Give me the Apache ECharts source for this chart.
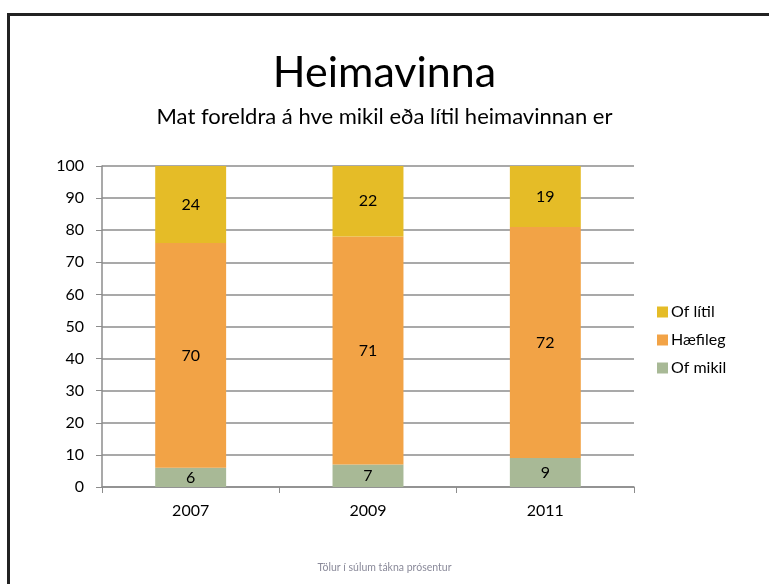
<!DOCTYPE html>
<html>
<head>
<meta charset="utf-8">
<script src="https://cdn.jsdelivr.net/npm/echarts@6/dist/echarts.min.js"></script>
<style>
  html, body { margin: 0; padding: 0; background: #fff; }
  #frame { position: absolute; left: 7px; top: 13px; width: 780px; height: 600px;
           border-top: 3px solid #222; border-left: 3px solid #222; }
  #chart { position: absolute; left: 0; top: 0; width: 769px; height: 584px; }
</style>
</head>
<body>
<div id="frame"></div>
<div id="chart"></div>
<script>
var years = ['2007', '2009', '2011'];
var ofMikil = [6, 7, 9];
var haefileg = [70, 71, 72];
var ofLitil = [24, 22, 19];

var myChart = echarts.init(document.getElementById('chart'));

var lbl = {
  show: true,
  position: 'inside',
  color: '#000',
  fontSize: 16,
  fontFamily: 'Lato'
};

var option = {
  animation: false,
  textStyle: { fontFamily: 'Lato' },
  title: [{
    text: 'Heimavinna',
    left: 'center',
    top: 47,
    textStyle: { fontSize: 43, fontWeight: 'normal', color: '#000', fontFamily: 'Lato' }
  }, {
    text: 'Mat foreldra á hve mikil eða lítil heimavinnan er',
    left: 'center',
    top: 101,
    textStyle: { fontSize: 22, fontWeight: 'normal', color: '#000', fontFamily: 'Lato' }
  }, {
    text: 'Tölur í súlum tákna prósentur',
    left: 'center',
    top: 557,
    textStyle: { fontSize: 10.5, fontWeight: 'normal', color: '#8a8a9a', fontFamily: 'Lato' }
  }],
  legend: {
    orient: 'vertical',
    left: 652,
    top: 299,
    itemWidth: 11,
    itemHeight: 11,
    itemGap: 12,
    icon: 'rect',
    textStyle: { fontSize: 16, color: '#000', fontFamily: 'Lato', padding: [0, 0, 0, -2] },
    data: ['Of lítil', 'Hæfileg', 'Of mikil']
  },
  grid: { left: 102, right: 135, top: 166, bottom: 97 },
  xAxis: {
    type: 'category',
    data: years,
    axisLine: { lineStyle: { color: '#8c8c8c', width: 1.5 } },
    axisTick: { show: true, length: 6, lineStyle: { color: '#8c8c8c' } },
    axisLabel: { color: '#000', fontSize: 16, margin: 16 }
  },
  yAxis: {
    type: 'value',
    min: 0,
    max: 100,
    interval: 10,
    axisLine: { show: true, lineStyle: { color: '#8c8c8c', width: 1.5 } },
    axisTick: { show: true, length: 6, lineStyle: { color: '#8c8c8c' } },
    axisLabel: { color: '#000', fontSize: 16, margin: 18 },
    splitLine: { lineStyle: { color: '#8c8c8c', width: 1.5 } }
  },
  series: [{
    name: 'Of mikil',
    type: 'bar',
    stack: 'a',
    barWidth: '40%',
    itemStyle: { color: '#a8b996' },
    label: lbl,
    data: ofMikil
  }, {
    name: 'Hæfileg',
    type: 'bar',
    stack: 'a',
    itemStyle: { color: '#f2a346' },
    label: lbl,
    data: haefileg
  }, {
    name: 'Of lítil',
    type: 'bar',
    stack: 'a',
    itemStyle: { color: '#e5bc27' },
    label: lbl,
    data: ofLitil
  }]
};
myChart.setOption(option);
</script>
</body>
</html>
